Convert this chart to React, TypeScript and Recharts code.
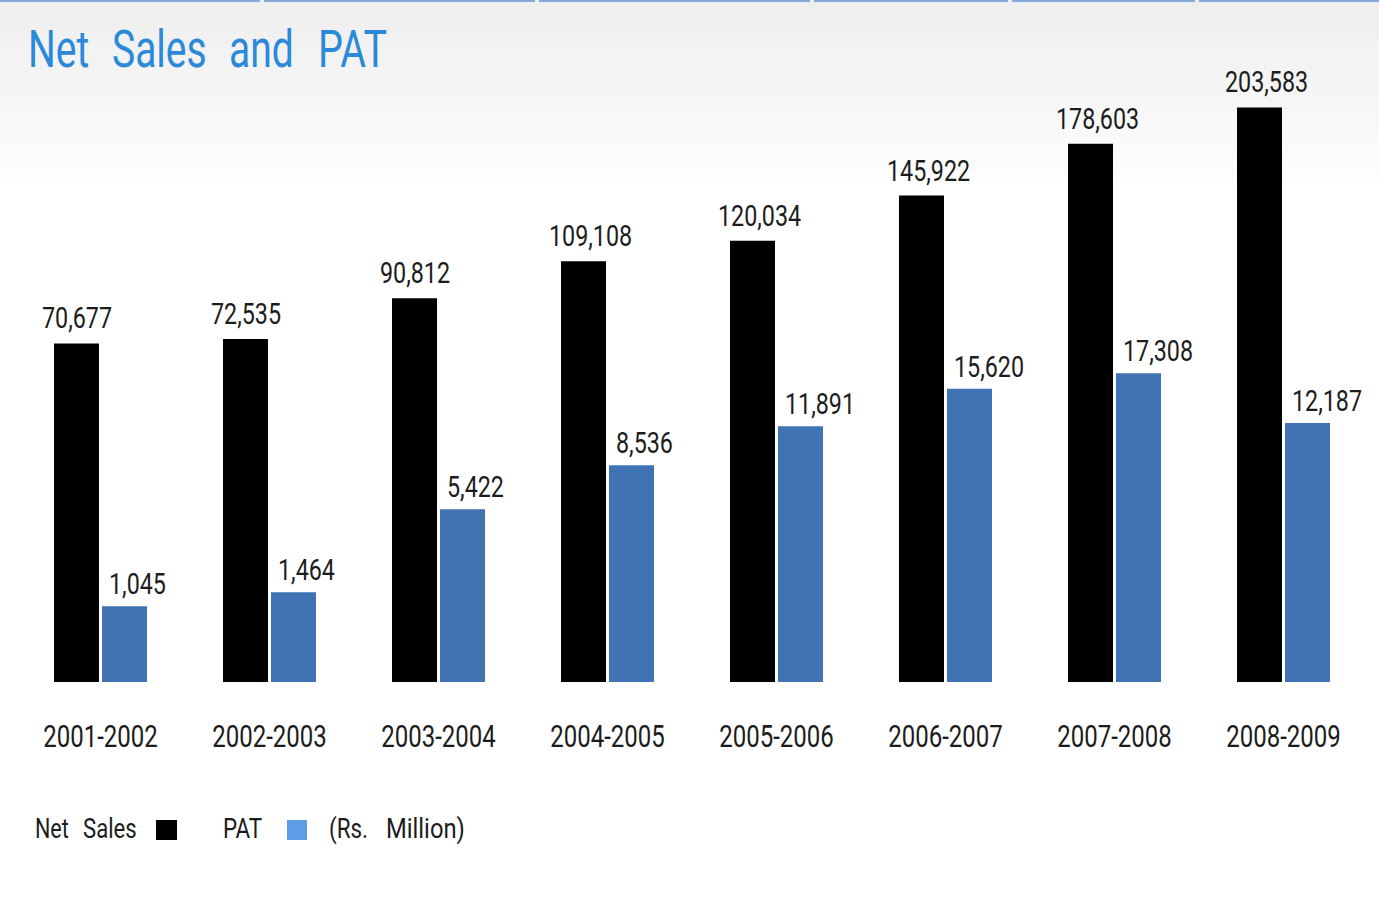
import { Bar, BarChart, LabelList, XAxis, YAxis } from "recharts";

const years = ["2001-2002", "2002-2003", "2003-2004", "2004-2005", "2005-2006", "2006-2007", "2007-2008", "2008-2009"];
const netSales = [70677, 72535, 90812, 109108, 120034, 145922, 178603, 203583];
const pat = [1045, 1464, 5422, 8536, 11891, 15620, 17308, 12187];

const chartData = years.map((year, i) => ({ year, netSales: netSales[i], pat: pat[i] }));

const FONT = "Roboto, 'Noto Sans', sans-serif";
const INK = "#1c1c1c";
const fmt = (v: number) => Number(v).toLocaleString("en-US");

// tall narrow lettering, squeezed horizontally around its anchor
function Narrow({ x, y, size, sx, anchor = "start", fill = INK, children }: any) {
  return (
    <g transform={`translate(${x},${y})`}>
      <text transform={`scale(${sx},1)`} textAnchor={anchor} fontFamily={FONT} fontSize={size} fill={fill}>
        {children}
      </text>
    </g>
  );
}

function YearTick({ x, y, payload }: any) {
  return <Narrow x={Number(x)} y={Number(y) + 65} size={32} sx={0.75} anchor="middle">{payload.value}</Narrow>;
}

const valueLabel = (dx: number, gap: number) => (props: any) => (
  <Narrow x={Number(props.x) + dx} y={Number(props.y) - gap} size={29.5} sx={0.79}>
    {fmt(props.value)}
  </Narrow>
);

const topSegments = [[0, 260], [264, 535], [539, 810], [814, 1008], [1012, 1195], [1199, 1379]];

export default function App() {
  return (
    <div
      style={{
        position: "absolute",
        left: 0,
        top: 0,
        width: 1379,
        height: 919,
        background: "linear-gradient(to bottom, #eeeeee 0px, #f7f7f7 110px, #fdfdfd 175px, #ffffff 185px)",
      }}
    >
      <BarChart
        width={1379}
        height={919}
        data={chartData}
        margin={{ top: 82, right: 11, bottom: 177, left: 16 }}
        barSize={45}
        barGap={3}
      >
        <XAxis dataKey="year" height={60} axisLine={false} tickLine={false} tickSize={0} tickMargin={0} tick={<YearTick />} interval={0} />
        <YAxis yAxisId="sales" hide scale="sqrt" type="number" domain={[0, 222000]} />
        <YAxis yAxisId="pat" hide scale="sqrt" type="number" domain={[0, 65400]} orientation="right" />
        <Bar yAxisId="sales" dataKey="netSales" fill="#000000" isAnimationActive={false}>
          <LabelList dataKey="netSales" content={valueLabel(-12, 15)} />
        </Bar>
        <Bar yAxisId="pat" dataKey="pat" fill="#3f73b4" isAnimationActive={false}>
          <LabelList dataKey="pat" content={valueLabel(7, 12)} />
        </Bar>
      </BarChart>
      <svg width={1379} height={919} style={{ position: "absolute", left: 0, top: 0, pointerEvents: "none" }}>
        {topSegments.map(([a, b]) => (
          <rect key={a} x={a} y={0} width={b - a} height={2} fill="#86a9dc" />
        ))}
        <Narrow x={28} y={67} size={52} sx={0.75} fill="#2b89d9">Net</Narrow>
        <Narrow x={112} y={67} size={52} sx={0.75} fill="#2b89d9">Sales</Narrow>
        <Narrow x={229} y={67} size={52} sx={0.75} fill="#2b89d9">and</Narrow>
        <Narrow x={318} y={67} size={52} sx={0.76} fill="#2b89d9">PAT</Narrow>
        <Narrow x={35} y={838} size={28} sx={0.77}>Net</Narrow>
        <Narrow x={83} y={838} size={28} sx={0.79}>Sales</Narrow>
        <rect x={156} y={820} width={21} height={20} fill="#000000" />
        <Narrow x={223} y={838} size={28} sx={0.8}>PAT</Narrow>
        <rect x={287} y={820} width={20} height={20} fill="#5c9de6" />
        <Narrow x={329} y={838} size={28} sx={0.8}>(Rs.</Narrow>
        <Narrow x={386} y={838} size={28} sx={0.85}>Million)</Narrow>
      </svg>
    </div>
  );
}
